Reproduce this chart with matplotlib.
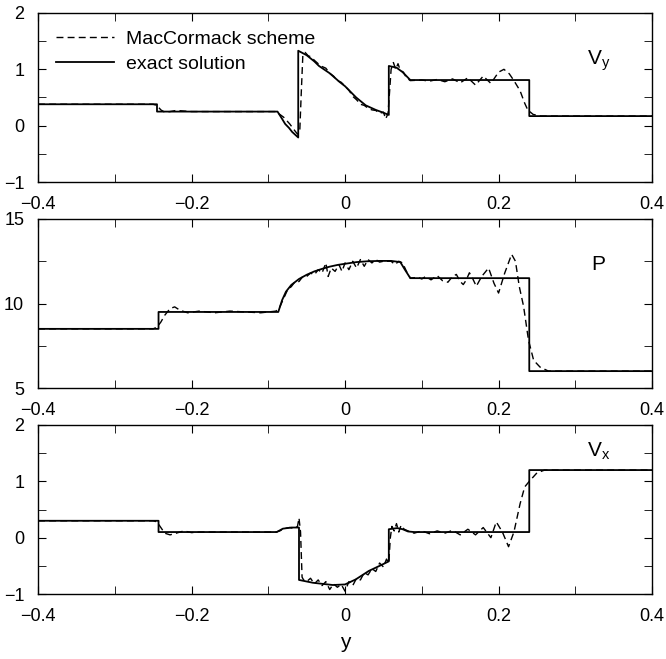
import matplotlib
matplotlib.use("Agg")
import matplotlib.pyplot as plt
from matplotlib.ticker import MultipleLocator

plt.rcParams['font.family'] = ['Liberation Sans', 'DejaVu Sans']
plt.rcParams['mathtext.fontset'] = 'custom'
plt.rcParams['mathtext.rm'] = 'Liberation Sans'

# ---- V_y : exact solution
vy_ex_x = [-0.4, -0.245, -0.245, -0.088, -0.082, -0.078, -0.073, -0.069, -0.065, -0.061,
           -0.061, -0.05, -0.04, -0.034, -0.02, -0.0075, 0.0, 0.0145, 0.027, 0.04, 0.05, 0.057,
           0.057, 0.067, 0.075, 0.085, 0.24, 0.24, 0.4]
vy_ex_y = [0.38, 0.38, 0.25, 0.25, 0.12, 0.03, -0.04, -0.11, -0.16, -0.21,
           1.33, 1.25, 1.14, 1.06, 0.93, 0.78, 0.70, 0.50, 0.36, 0.28, 0.23, 0.19,
           1.06, 1.03, 0.95, 0.81, 0.81, 0.17, 0.17]

# ---- V_y : MacCormack
vy_mc_x = [-0.4, -0.25, -0.245, -0.24, -0.235, -0.228, -0.22, -0.21, -0.2, -0.09,
           -0.08, -0.072, -0.066, -0.062, -0.059, -0.057, -0.055, -0.052, -0.048, -0.044,
           -0.04, -0.035, -0.03, -0.025, -0.02, -0.015, -0.01, -0.005, 0.0, 0.005,
           0.01, 0.015, 0.02, 0.025, 0.03, 0.035, 0.04, 0.045, 0.05, 0.053,
           0.056, 0.058, 0.06, 0.063, 0.066, 0.069, 0.072, 0.076, 0.08, 0.085,
           0.1, 0.11, 0.12, 0.13, 0.14, 0.15, 0.16, 0.17, 0.18, 0.19,
           0.2, 0.207, 0.214, 0.22, 0.228, 0.234, 0.238, 0.245, 0.255, 0.4]
vy_mc_y = [0.38, 0.38, 0.36, 0.28, 0.24, 0.25, 0.27, 0.26, 0.25, 0.25,
           0.15, 0.03, -0.08, -0.15, -0.10, 0.6, 1.25, 1.30, 1.24, 1.22,
           1.16, 1.10, 1.05, 1.02, 0.93, 0.88, 0.80, 0.77, 0.70, 0.63,
           0.52, 0.46, 0.38, 0.36, 0.31, 0.28, 0.27, 0.22, 0.24, 0.12,
           0.22, 0.6, 1.0, 1.12, 1.0, 1.1, 0.98, 0.95, 0.85, 0.80,
           0.81, 0.79, 0.82, 0.78, 0.83, 0.76, 0.85, 0.72, 0.88, 0.75,
           0.95, 1.0, 0.92, 0.80, 0.62, 0.40, 0.28, 0.20, 0.17, 0.17]

# ---- P : exact solution
p_ex_x = [-0.4, -0.243, -0.243, -0.087, -0.082, -0.077, -0.07, -0.06, -0.05, -0.04,
          -0.03, -0.02, -0.01, 0.0, 0.015, 0.03, 0.045, 0.06, 0.072, 0.078, 0.085,
          0.240, 0.240, 0.4]
p_ex_y = [8.5, 8.5, 9.5, 9.5, 10.2, 10.7, 11.1, 11.45, 11.7, 11.9,
          12.05, 12.18, 12.28, 12.35, 12.45, 12.5, 12.52, 12.52, 12.45, 12.0, 11.5,
          11.5, 6.0, 6.0]

# ---- P : MacCormack
p_mc_x = [-0.4, -0.25, -0.245, -0.24, -0.235, -0.228, -0.222, -0.215, -0.205, -0.19,
          -0.17, -0.15, -0.13, -0.11, -0.09, -0.085, -0.08, -0.075, -0.07, -0.065,
          -0.06, -0.055, -0.05, -0.045, -0.04, -0.035, -0.03, -0.025, -0.022, -0.018,
          -0.013, -0.008, -0.004, 0.0, 0.005, 0.01, 0.015, 0.02, 0.025, 0.03,
          0.035, 0.04, 0.045, 0.05, 0.06, 0.065, 0.07, 0.075, 0.08, 0.085,
          0.095, 0.1, 0.105, 0.112, 0.12, 0.127, 0.134, 0.14, 0.145, 0.15,
          0.154, 0.158, 0.162, 0.166, 0.171, 0.178, 0.187, 0.194, 0.2, 0.208,
          0.217, 0.222, 0.227, 0.2326, 0.239, 0.2457, 0.254, 0.265, 0.4]
p_mc_y = [8.5, 8.5, 8.6, 8.9, 9.3, 9.7, 9.8, 9.6, 9.45, 9.55,
          9.45, 9.55, 9.5, 9.45, 9.55, 9.8, 10.3, 10.8, 11.0, 11.3,
          11.3, 11.6, 11.6, 11.8, 11.7, 12.0, 11.8, 12.4, 11.6, 12.1,
          11.9, 12.3, 11.9, 12.4, 12.0, 12.5, 12.1, 12.6, 12.2, 12.6,
          12.4, 12.6, 12.45, 12.5, 12.5, 12.3, 12.5, 12.4, 11.9, 11.5,
          11.55, 11.45, 11.6, 11.4, 11.65, 11.35, 11.26, 11.6, 11.72, 11.3,
          11.12, 11.4, 11.82, 11.5, 11.02, 11.6, 12.1, 11.2, 10.62, 11.8,
          12.91, 12.5, 11.0, 9.83, 7.83, 6.64, 6.24, 6.0, 6.0]

# ---- V_x : exact solution
vx_ex_x = [-0.4, -0.243, -0.243, -0.089, -0.081, -0.07, -0.06, -0.06, -0.042, -0.016,
           0.0, 0.014, 0.031, 0.045, 0.057, 0.057, 0.068, 0.075, 0.082, 0.09,
           0.24, 0.24, 0.4]
vx_ex_y = [0.3, 0.3, 0.1, 0.1, 0.16, 0.18, 0.18, -0.75, -0.80, -0.84,
           -0.83, -0.74, -0.59, -0.50, -0.42, 0.15, 0.17, 0.15, 0.11, 0.1,
           0.1, 1.2, 1.2]

# ---- V_x : MacCormack
vx_mc_x = [-0.4, -0.25, -0.245, -0.24, -0.235, -0.228, -0.22, -0.21, -0.2, -0.19,
           -0.09, -0.085, -0.08, -0.072, -0.066, -0.062, -0.06, -0.058, -0.057, -0.056,
           -0.054, -0.05, -0.045, -0.04, -0.035, -0.03, -0.025, -0.02, -0.015, -0.01,
           -0.005, 0.0, 0.005, 0.01, 0.015, 0.02, 0.025, 0.03, 0.035, 0.04,
           0.045, 0.05, 0.054, 0.057, 0.059, 0.061, 0.064, 0.067, 0.07, 0.073,
           0.077, 0.082, 0.09, 0.1, 0.11, 0.12, 0.13, 0.14, 0.15, 0.16,
           0.17, 0.18, 0.19, 0.197, 0.205, 0.213, 0.22, 0.228, 0.234, 0.24,
           0.25, 0.26, 0.4]
vx_mc_y = [0.3, 0.3, 0.28, 0.18, 0.08, 0.05, 0.08, 0.12, 0.09, 0.1,
           0.1, 0.12, 0.16, 0.18, 0.16, 0.2, 0.35, 0.1, -0.3, -0.7,
           -0.75, -0.78, -0.72, -0.82, -0.75, -0.85, -0.78, -0.92, -0.82, -0.88,
           -0.83, -0.95, -0.78, -0.85, -0.72, -0.75, -0.62, -0.66, -0.55, -0.6,
           -0.45, -0.52, -0.38, -0.45, 0.0, 0.2, 0.12, 0.25, 0.1, 0.22,
           0.15, 0.12, 0.08, 0.12, 0.07, 0.12, 0.08, 0.13, 0.05, 0.15,
           0.05, 0.18, 0.0, 0.28, 0.1, -0.16, 0.1, 0.6, 0.9, 1.0,
           1.15, 1.2, 1.2]

panels = [
    (vy_mc_x, vy_mc_y, vy_ex_x, vy_ex_y, (-1, 2), 1, 0.5, r'V$_\mathregular{y}$', 1.08),
    (p_mc_x, p_mc_y, p_ex_x, p_ex_y, (5, 15), 5, 2.5, 'P', 12.0),
    (vx_mc_x, vx_mc_y, vx_ex_x, vx_ex_y, (-1, 2), 1, 0.5, r'V$_\mathregular{x}$', 1.44),
]
bottoms = [0.7238, 0.4112, 0.0986]
height = 0.2565

fig = plt.figure(figsize=(6.66, 6.59), dpi=100)

for i, (mx, my, ex, ey, ylim, maj, mnr, lab, laby) in enumerate(panels):
    ax = fig.add_axes([0.0571, bottoms[i], 0.922, height])
    ax.plot(mx, my, color='black', lw=1.0, linestyle=(0, (5, 3)), label='MacCormack scheme')
    ax.plot(ex, ey, color='black', lw=1.3, label='exact solution')
    ax.set_xlim(-0.4, 0.4)
    ax.set_ylim(*ylim)
    ax.xaxis.set_minor_locator(MultipleLocator(0.1))
    ax.yaxis.set_minor_locator(MultipleLocator(mnr))
    ax.set_xticks([-0.4, -0.2, 0, 0.2, 0.4])
    ax.set_xticklabels(['\u22120.4', '\u22120.2', '0', '0.2', '0.4'])
    yt = list(range(ylim[0], ylim[1] + 1, maj))
    ax.set_yticks(yt)
    ax.set_yticklabels([str(v).replace('-', '\u2212') for v in yt])
    ax.tick_params(which='both', direction='in', top=True, right=True, labelsize=13, length=6)
    ax.tick_params(axis='x', pad=10)
    ax.tick_params(axis='y', pad=10)
    for s in ax.spines.values():
        s.set_linewidth(1.0)
    ax.text(0.33, laby, lab, fontsize=15, ha='center', va='baseline')
    if i == 0:
        ax.legend(loc='upper left', frameon=False, fontsize=14, handlelength=3.0,
                  handletextpad=0.6, labelspacing=0.35, borderaxespad=0.5,
                  bbox_to_anchor=(0.0, 1.0))
    if i == 2:
        ax.set_xlabel('y', fontsize=15, labelpad=6)

fig.savefig('out.png', dpi=100)
